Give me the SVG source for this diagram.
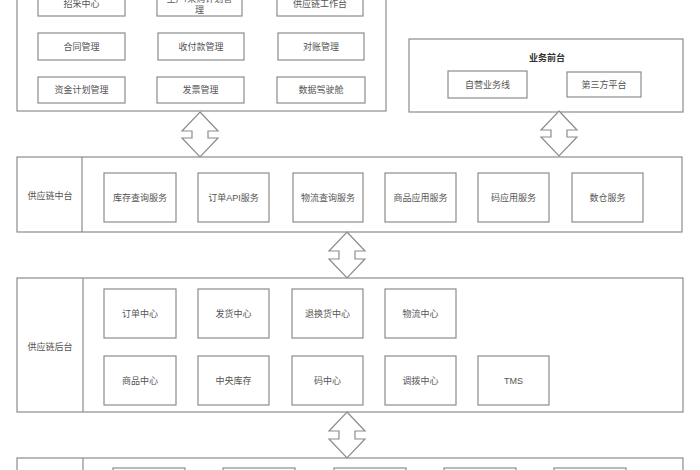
<svg xmlns="http://www.w3.org/2000/svg" width="700" height="470" viewBox="0 0 700 470">
<style>
  .frame{fill:#fff;stroke:#8c8c8c;stroke-width:1.2}
  .box{fill:#fff;stroke:#8c8c8c;stroke-width:1.2}
  .div{stroke:#8c8c8c;stroke-width:1.2}
  .t{font-family:"Liberation Sans","Noto Sans CJK SC",sans-serif;font-size:9px;fill:#555;text-anchor:middle;dominant-baseline:central}
  .title{font-weight:bold;fill:#333}
  .arrow{fill:#fff;stroke:#8c8c8c;stroke-width:1.2;stroke-linejoin:miter}
</style>
<rect x="0" y="0" width="700" height="470" fill="#fff"/>

<!-- top-left platform (cut off) -->
<g id="top-left-frame">
  <rect class="frame" x="17" y="-40" width="369" height="151"/>
</g>
<g id="n-zhaocai"><rect class="box" x="38" y="-11" width="87" height="27"/><text class="t" x="81.5" y="4">招采中心</text></g>
<g id="n-plan"><rect class="box" x="157" y="-11" width="85" height="27"/><text class="t" x="199.5" y="-1">生产/采购计划管</text><text class="t" x="199.5" y="10">理</text></g>
<g id="n-workbench"><rect class="box" x="277" y="-11" width="86" height="27"/><text class="t" x="320" y="4">供应链工作台</text></g>
<g id="n-contract"><rect class="box" x="38" y="33" width="87" height="27"/><text class="t" x="81.5" y="47">合同管理</text></g>
<g id="n-payment"><rect class="box" x="158" y="33" width="86" height="27"/><text class="t" x="201" y="47">收付款管理</text></g>
<g id="n-recon"><rect class="box" x="278" y="33" width="86" height="27"/><text class="t" x="321" y="47">对账管理</text></g>
<g id="n-fund"><rect class="box" x="38" y="77" width="87" height="26"/><text class="t" x="81.5" y="90">资金计划管理</text></g>
<g id="n-invoice"><rect class="box" x="157" y="77" width="87" height="26"/><text class="t" x="200.5" y="90">发票管理</text></g>
<g id="n-dashboard"><rect class="box" x="277" y="77" width="88" height="26"/><text class="t" x="321" y="90">数据驾驶舱</text></g>

<!-- front platform -->
<g id="front-frame">
  <rect class="frame" x="409" y="39" width="274" height="73"/>
  <text class="t title" x="547" y="58">业务前台</text>
</g>
<g id="n-self"><rect class="box" x="448" y="71" width="79" height="27"/><text class="t" x="487.5" y="84.5">自营业务线</text></g>
<g id="n-third"><rect class="box" x="567" y="72" width="74" height="25"/><text class="t" x="604" y="84.5">第三方平台</text></g>

<!-- middle platform -->
<g id="middle-frame">
  <rect class="frame" x="17" y="157" width="665" height="75"/>
  <line class="div" x1="82" y1="157" x2="82" y2="232"/>
  <text class="t" x="50" y="196">供应链中台</text>
</g>
<g id="n-stock-q"><rect class="box" x="104" y="173" width="72" height="49"/><text class="t" x="140" y="197.5">库存查询服务</text></g>
<g id="n-order-api"><rect class="box" x="198" y="173" width="71" height="49"/><text class="t" x="233.5" y="197.5">订单API服务</text></g>
<g id="n-logi-q"><rect class="box" x="293" y="173" width="70" height="49"/><text class="t" x="328" y="197.5">物流查询服务</text></g>
<g id="n-goods-app"><rect class="box" x="385" y="173" width="71" height="49"/><text class="t" x="420.5" y="197.5">商品应用服务</text></g>
<g id="n-code-app"><rect class="box" x="478" y="173" width="71" height="49"/><text class="t" x="513.5" y="197.5">码应用服务</text></g>
<g id="n-dw"><rect class="box" x="572" y="173" width="71" height="49"/><text class="t" x="607.5" y="197.5">数仓服务</text></g>

<!-- back platform -->
<g id="back-frame">
  <rect class="frame" x="17" y="278" width="666" height="134"/>
  <line class="div" x1="83" y1="278" x2="83" y2="412"/>
  <text class="t" x="50" y="347">供应链后台</text>
</g>
<g id="n-order-c"><rect class="box" x="104" y="289" width="72" height="49"/><text class="t" x="140" y="313.5">订单中心</text></g>
<g id="n-ship-c"><rect class="box" x="198" y="289" width="71" height="49"/><text class="t" x="233.5" y="313.5">发货中心</text></g>
<g id="n-return-c"><rect class="box" x="292" y="289" width="71" height="49"/><text class="t" x="327.5" y="313.5">退换货中心</text></g>
<g id="n-logi-c"><rect class="box" x="385" y="289" width="71" height="49"/><text class="t" x="420.5" y="313.5">物流中心</text></g>
<g id="n-goods-c"><rect class="box" x="104" y="356" width="72" height="49"/><text class="t" x="140" y="380.5">商品中心</text></g>
<g id="n-central-stock"><rect class="box" x="198" y="356" width="71" height="49"/><text class="t" x="233.5" y="380.5">中央库存</text></g>
<g id="n-code-c"><rect class="box" x="292" y="356" width="71" height="49"/><text class="t" x="327.5" y="380.5">码中心</text></g>
<g id="n-transfer-c"><rect class="box" x="385" y="356" width="71" height="49"/><text class="t" x="420.5" y="380.5">调拨中心</text></g>
<g id="n-tms"><rect class="box" x="478" y="356" width="71" height="49"/><text class="t" x="513.5" y="380.5">TMS</text></g>

<!-- bottom platform (cut off) -->
<g id="bottom-frame">
  <rect class="frame" x="17" y="458" width="666" height="60"/>
  <line class="div" x1="83" y1="458" x2="83" y2="480"/>
</g>
<g id="n-b1"><rect class="box" x="113" y="468" width="72" height="30"/></g>
<g id="n-b2"><rect class="box" x="223" y="468" width="72" height="30"/></g>
<g id="n-b3"><rect class="box" x="334" y="468" width="72" height="30"/></g>
<g id="n-b4"><rect class="box" x="444" y="468" width="72" height="30"/></g>
<g id="n-b5"><rect class="box" x="554" y="468" width="72" height="30"/></g>

<!-- connectors: double arrows -->
<g id="connectors">
  <path class="arrow" d="M200,112 L218,131 L208,131 L208,138 L218,138 L200,157 L182,138 L192,138 L192,131 L182,131 Z"/>
  <path class="arrow" d="M559,111 L577,130 L567,130 L567,137 L577,137 L559,156 L541,137 L551,137 L551,130 L541,130 Z"/>
  <path class="arrow" d="M347,232 L365,251 L355,251 L355,259 L365,259 L347,278 L329,259 L339,259 L339,251 L329,251 Z"/>
  <path class="arrow" d="M347,412 L365,431 L355,431 L355,439 L365,439 L347,458 L329,439 L339,439 L339,431 L329,431 Z"/>
</g>
</svg>
